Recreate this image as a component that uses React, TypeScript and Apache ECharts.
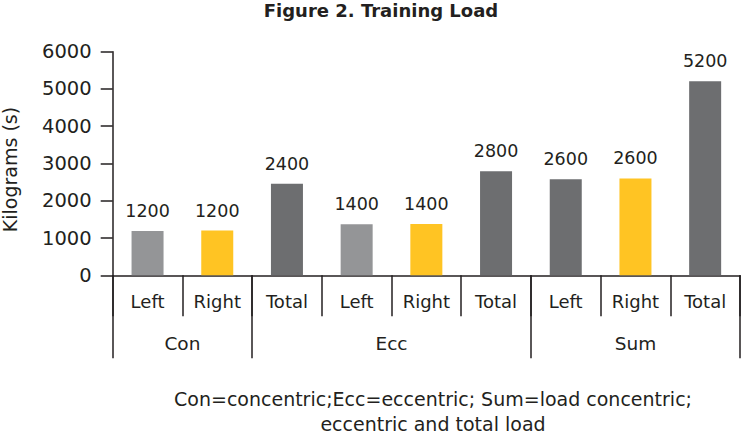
import React, { useEffect, useRef } from "react";
import * as echarts from "echarts";

const categories = ["Left", "Right", "Total", "Left", "Right", "Total", "Left", "Right", "Total"];
const values = [1190, 1200, 2455, 1370, 1375, 2790, 2575, 2600, 5210];
const valueLabels = ["1200", "1200", "2400", "1400", "1400", "2800", "2600", "2600", "5200"];
const barColors = ["#949597", "#FFC423", "#6D6E70", "#949597", "#FFC423", "#6D6E70", "#6D6E70", "#FFC423", "#6D6E70"];
const groupNames = ["Con", "Ecc", "Sum"];
const groupBounds = [0, 2, 6, 9];
const yTicks = [0, 1000, 2000, 3000, 4000, 5000, 6000];
const titleText = "Figure 2. Training Load";
const yName = "Kilograms (s)";
const footnoteLines = ["Con=concentric;Ecc=eccentric; Sum=load concentric;", "eccentric and total load"];

const FONT = "DejaVu Sans";
const INK = "#231F20";

export default function App() {
  const ref = useRef<HTMLDivElement>(null);
  useEffect(() => {
    if (!ref.current) return;
    const chart = echarts.init(ref.current, null, { renderer: "svg" });
    const mids = groupNames.map((_, i) => (groupBounds[i] + groupBounds[i + 1]) / 2);
    chart.setOption({
      animation: false,
      backgroundColor: "#ffffff",
      textStyle: { fontFamily: FONT, color: INK },
      grid: {
        left: 112.7,
        right: 1,
        top: 51.7,
        bottom: 159.7,
        containLabel: false,
        outerBoundsMode: "none",
      },
      xAxis: [
        {
          type: "category",
          data: categories,
          position: "bottom",
          axisLine: { show: true, lineStyle: { color: INK, width: 1.5 } },
          axisTick: { show: true, length: 41, interval: 0, lineStyle: { color: INK, width: 1.5 } },
          axisLabel: { interval: 0, margin: 17, fontSize: 18, color: INK, fontFamily: FONT },
          splitLine: { show: false },
        },
        {
          type: "value",
          min: 0,
          max: 9,
          position: "bottom",
          axisLine: { show: false },
          splitLine: { show: false },
          axisTick: { show: true, customValues: groupBounds, length: 83, lineStyle: { color: INK, width: 1.5 } },
          axisLabel: {
            customValues: mids,
            margin: 59,
            fontSize: 18.5,
            color: INK,
            fontFamily: FONT,
            formatter: (v: number) => {
              const i = mids.findIndex((m) => Math.abs(m - v) < 1e-6);
              return i >= 0 ? groupNames[i] : "";
            },
          },
        },
      ],
      yAxis: {
        type: "value",
        min: yTicks[0],
        max: yTicks[yTicks.length - 1],
        interval: 1000,
        name: yName,
        nameLocation: "middle",
        nameRotate: 90,
        nameGap: 93,
        nameTextStyle: { fontSize: 19, color: INK, fontFamily: FONT, padding: [0, 12, 0, 0] },
        axisLine: { show: true, lineStyle: { color: INK, width: 1.5 } },
        axisTick: { show: true, length: 12, lineStyle: { color: INK, width: 1.5 } },
        axisLabel: {
          margin: 21,
          fontSize: 19.5,
          color: INK,
          fontFamily: FONT,
          formatter: (v: number) => String(v),
        },
        splitLine: { show: false },
      },
      series: [
        {
          type: "bar",
          xAxisIndex: 0,
          yAxisIndex: 0,
          barWidth: 32,
          data: values.map((v, i) => ({ value: v, itemStyle: { color: barColors[i] } })),
          label: {
            show: true,
            position: "top",
            distance: 11,
            fontSize: 17.5,
            color: INK,
            fontFamily: FONT,
            formatter: (p: any) => valueLabels[p.dataIndex],
          },
        },
      ],
      graphic: [
        {
          type: "text",
          x: 381,
          y: 1,
          style: {
            text: titleText,
            textAlign: "center",
            textVerticalAlign: "top",
            fontSize: 18,
            fontWeight: "bold",
            fontFamily: "DejaVu Sans",
            fill: INK,
          },
        },
        ...footnoteLines.map((line, i) => ({
          type: "text",
          x: 433,
          y: 399 + i * 25,
          style: {
            text: line,
            textAlign: "center",
            textVerticalAlign: "middle",
            fontSize: 19,
            fill: INK,
            fontFamily: FONT,
          },
        })),
      ],
    });
    return () => chart.dispose();
  }, []);
  return (
    <div
      ref={ref}
      style={{ position: "absolute", left: 0, top: 0, width: 741, height: 435 }}
    />
  );
}
